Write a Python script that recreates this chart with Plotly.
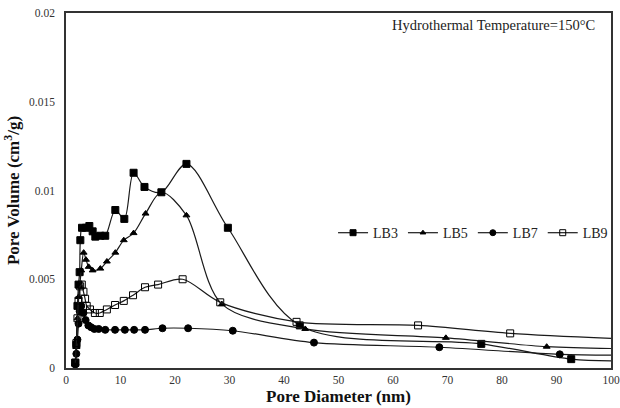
import plotly.graph_objects as go

# ---- data ----
# the last point of each series (x=100) is where the curve meets the frame; it carries no marker
lb3_x = [1.7, 1.9, 2.1, 2.3, 2.5, 2.63, 2.94, 3.67, 4.28, 4.89, 5.38, 6.3, 7.2, 9.05, 10.7, 12.4, 14.4, 17.5, 22.1, 29.7, 42.9, 76.2, 92.7, 100]
lb3_y = [0.0003, 0.0013, 0.0035, 0.0047, 0.0054, 0.0072, 0.0079, 0.0079, 0.0080, 0.0077, 0.0074, 0.00745, 0.00745, 0.0089, 0.0084, 0.0110, 0.0102, 0.0099, 0.0115, 0.0079, 0.0024, 0.00136, 0.0005, 0.0004]

lb5_x = [1.7, 1.9, 2.1, 2.3, 2.5, 2.8, 3.24, 3.67, 4.16, 4.89, 6.3, 7.5, 9.05, 10.6, 12.4, 14.6, 17.5, 22.1, 28.6, 43.9, 69.7, 88.2, 100]
lb5_y = [0.0002, 0.0012, 0.0028, 0.0040, 0.0046, 0.0055, 0.0065, 0.0061, 0.0057, 0.0055, 0.0056, 0.0060, 0.0065, 0.0072, 0.0076, 0.0087, 0.0099, 0.0086, 0.0036, 0.0022, 0.0017, 0.0012, 0.0011]

lb7_x = [1.7, 1.9, 2.1, 2.3, 2.5, 2.8, 3.2, 3.6, 4.1, 4.6, 5.2, 6.0, 7.2, 9.0, 10.8, 12.5, 14.5, 17.7, 22.4, 30.6, 45.5, 68.5, 90.6, 100]
lb7_y = [0.0002, 0.0008, 0.0016, 0.0025, 0.0032, 0.0035, 0.0031, 0.0027, 0.0024, 0.0023, 0.0022, 0.0022, 0.00215, 0.00215, 0.00215, 0.00215, 0.00215, 0.00224, 0.00224, 0.0021, 0.00143, 0.00117, 0.00077, 0.00073]

lb9_x = [1.7, 1.9, 2.1, 2.3, 2.6, 2.9, 3.2, 3.5, 3.8, 4.4, 5.3, 6.2, 7.5, 9.0, 10.6, 12.3, 14.5, 16.9, 21.4, 28.3, 42.3, 64.6, 81.5, 100]
lb9_y = [0.0003, 0.0014, 0.0028, 0.0038, 0.0046, 0.0047, 0.0043, 0.0039, 0.0035, 0.0033, 0.0031, 0.0031, 0.0033, 0.00355, 0.00378, 0.0041, 0.00455, 0.0047, 0.0050, 0.0037, 0.0026, 0.0024, 0.00195, 0.00167]

series = [
    ("LB3", lb3_x, lb3_y, "square"),
    ("LB5", lb5_x, lb5_y, "triangle-up"),
    ("LB7", lb7_x, lb7_y, "circle"),
    ("LB9", lb9_x, lb9_y, "square-open"),
]

x_ticks = [0, 10, 20, 30, 40, 50, 60, 70, 80, 90, 100]
y_ticks = [0, 0.005, 0.01, 0.015, 0.02]
y_tick_text = ["0", "0.005", "0.01", "0.015", "0.02"]

SERIF = '"Liberation Serif", "Times New Roman", serif'
LINE_COLOR = "#1a1a1a"

fig = go.Figure()
for name, xs, ys, sym in series:
    msize = 6 if sym == "triangle-up" else 7
    marker = dict(symbol=sym, size=msize, color="black", line=dict(color="black", width=1))
    # smoothed curve through every point
    fig.add_trace(go.Scatter(
        x=xs, y=ys, mode="lines", showlegend=False, hoverinfo="skip",
        line=dict(color=LINE_COLOR, width=1.2, shape="spline", smoothing=0.9),
    ))
    # markers at the measured points (not at the frame end)
    fig.add_trace(go.Scatter(
        x=xs[:-1], y=ys[:-1], mode="markers", showlegend=False, name=name,
        marker=marker,
    ))
    # legend entry only
    fig.add_trace(go.Scatter(
        x=[None], y=[None], mode="lines+markers", name=name,
        line=dict(color=LINE_COLOR, width=1.2),
        marker=dict(symbol=sym, size=msize - 1, color="black", line=dict(color="black", width=1)),
    ))

fig.update_layout(
    width=620, height=408,
    margin=dict(l=66, r=9, t=13, b=40, autoexpand=False),
    paper_bgcolor="white", plot_bgcolor="white",
    font=dict(family=SERIF, color="#222"),
    showlegend=True,
    legend=dict(orientation="h", x=0.49, y=0.38, xanchor="left", yanchor="middle",
                font=dict(family=SERIF, size=14, color="#222"),
                bgcolor="rgba(0,0,0,0)", itemwidth=30, tracegroupgap=0),
    xaxis=dict(range=[0, 100], tickvals=x_ticks, showgrid=False, zeroline=False,
               showline=True, linecolor="#333", linewidth=1.5, mirror=True,
               ticks="", tickfont=dict(family=SERIF, size=11.5, color="#333"),
               title=dict(text="<b>Pore Diameter (nm)</b>", font=dict(family=SERIF, size=17, color="#111"), standoff=6)),
    yaxis=dict(range=[0, 0.02], tickvals=y_ticks, ticktext=y_tick_text, showgrid=False, zeroline=False,
               showline=True, linecolor="#333", linewidth=1.5, mirror=True,
               ticks="", ticklabelstandoff=7, tickfont=dict(family=SERIF, size=11.5, color="#333"),
               title=dict(text="<b>Pore Volume (cm<sup>3</sup>/g)</b>", font=dict(family=SERIF, size=17, color="#111"), standoff=5)),
    annotations=[dict(text="Hydrothermal Temperature=150°C", xref="paper", yref="paper",
                      x=0.975, y=0.966, xanchor="right", yanchor="middle", showarrow=False,
                      font=dict(family=SERIF, size=14.5, color="#222"))],
)

fig.write_html("out.html")
